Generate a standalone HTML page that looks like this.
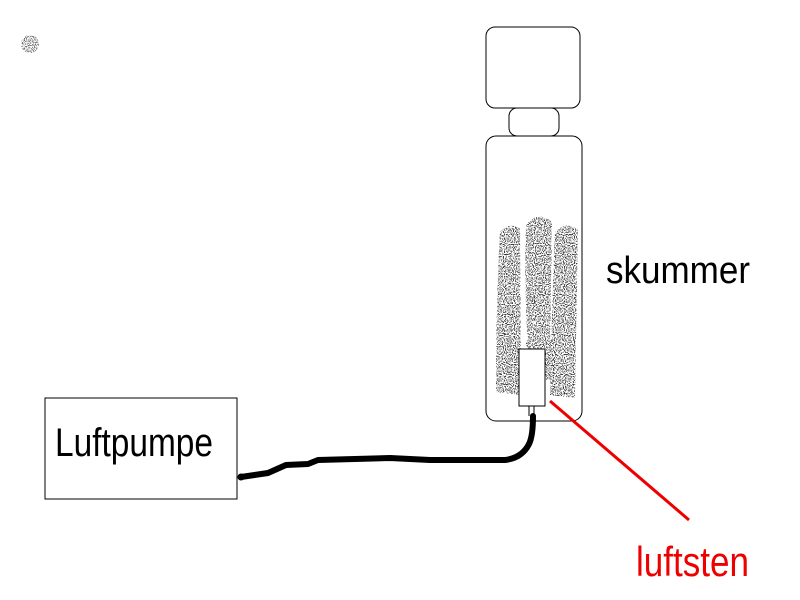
<!DOCTYPE html>
<html><head><style>
html,body{margin:0;padding:0;background:#fff;width:800px;height:600px;overflow:hidden}
</style></head><body>
<svg width="800" height="600" viewBox="0 0 800 600" xmlns="http://www.w3.org/2000/svg">
<defs>
<filter id="noise" x="0" y="0" width="100%" height="100%">
<feTurbulence type="fractalNoise" baseFrequency="0.9" numOctaves="1" seed="3" result="t"/>
<feColorMatrix in="t" type="matrix" values="0 0 0 0 0  0 0 0 0 0  0 0 0 0 0  0 0 0 -12 6.0" result="d"/>
<feComposite in="d" in2="SourceGraphic" operator="in"/>
</filter>
</defs>
<rect x="0" y="0" width="800" height="600" fill="#fff"/>
<g filter="url(#noise)" opacity="0.6"><ellipse cx="30" cy="44" rx="9" ry="9" fill="#000"/></g>
<rect x="486" y="27" width="94" height="81" rx="9" fill="#fff" stroke="#000" stroke-width="1"/>
<rect x="509" y="108" width="50" height="28" rx="8" fill="#fff" stroke="#000" stroke-width="1"/>
<rect x="486" y="136" width="96" height="285" rx="10" fill="#fff" stroke="#000" stroke-width="1"/>
<g filter="url(#noise)" opacity="0.75">
<path d="M500 232 Q508 222 520 228 L521 395 L496 392 Q496 300 500 232Z" fill="#000"/>
<path d="M526 225 Q538 210 552 222 L550 345 L528 348 Q524 280 526 225Z" fill="#000"/>
<path d="M555 232 Q566 220 578 230 L575 398 L550 395 Q552 300 555 232Z" fill="#000"/>
<path d="M526 340 L552 340 L552 380 L526 380Z" fill="#000"/>
</g>
<rect x="519" y="349" width="26" height="57" fill="#fff" stroke="#000" stroke-width="1"/>
<line x1="529" y1="406" x2="529" y2="416" stroke="#000"/>
<line x1="534" y1="406" x2="534" y2="416" stroke="#000"/>
<path d="M241 477 L268 473 L286 465 L308 464 L318 460 L390 458 L430 460 L505 460 Q522 458 529 444 Q533 436 533 416" fill="none" stroke="#000" stroke-width="6" stroke-linejoin="round" stroke-linecap="round"/>
<rect x="45" y="398" width="192" height="101" fill="#fff" stroke="#000" stroke-width="1"/>
<circle cx="241" cy="477" r="3.5" fill="#000"/>
<text x="55" y="456" font-family="'Liberation Sans',sans-serif" font-size="40" fill="#000" textLength="158" lengthAdjust="spacingAndGlyphs">Luftpumpe</text>
<text x="606" y="283" font-family="'Liberation Sans',sans-serif" font-size="38" fill="#000" textLength="144" lengthAdjust="spacingAndGlyphs">skummer</text>
<line x1="550" y1="401" x2="689" y2="520" stroke="#e00" stroke-width="3"/>
<text x="636" y="576" font-family="'Liberation Sans',sans-serif" font-size="42" fill="#e00" textLength="113" lengthAdjust="spacingAndGlyphs">luftsten</text>
</svg>
</body></html>
